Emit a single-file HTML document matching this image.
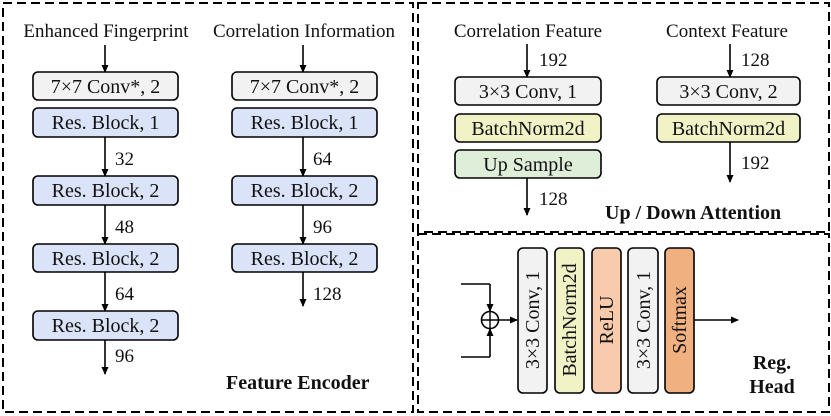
<!DOCTYPE html>
<html><head><meta charset="utf-8"><style>
html,body{margin:0;padding:0;background:#fff;}
svg{display:block;}
svg text{font-family:"Liberation Serif","Times New Roman","DejaVu Serif",serif;}
</style></head><body>
<svg width="831" height="416" viewBox="0 0 831 416" xmlns="http://www.w3.org/2000/svg">
<defs>
<marker id="a" markerWidth="8" markerHeight="8" refX="7" refY="4" orient="auto" markerUnits="userSpaceOnUse">
<path d="M0,0.5 L8,4 L0,7.5 Z" fill="#000"/></marker>
</defs>
<g fill="none" stroke="#000" stroke-width="2" stroke-dasharray="9,5">
<rect x="3" y="3" width="410" height="409"/>
<rect x="418" y="3" width="411" height="229"/>
<rect x="418" y="234" width="411" height="178"/>
</g>
<g font-size="19" text-anchor="middle" fill="#111">
<text x="106" y="37">Enhanced Fingerprint</text>
<text x="304" y="37">Correlation Information</text>
<text x="528" y="37">Correlation Feature</text>
<text x="727" y="37">Context Feature</text>
</g>
<g stroke="#000" stroke-width="1.6" marker-end="url(#a)">
<line x1="105" y1="45" x2="105" y2="72"/>
<line x1="303" y1="45" x2="303" y2="72"/>
<line x1="105" y1="137" x2="105" y2="176"/>
<line x1="105" y1="205" x2="105" y2="244"/>
<line x1="105" y1="272" x2="105" y2="311"/>
<line x1="105" y1="340" x2="105" y2="374"/>
<line x1="303" y1="137" x2="303" y2="176"/>
<line x1="303" y1="205" x2="303" y2="244"/>
<line x1="303" y1="272" x2="303" y2="306"/>
<line x1="527" y1="44" x2="527" y2="77"/>
<line x1="527" y1="178" x2="527" y2="215"/>
<line x1="730" y1="44" x2="730" y2="77"/>
<line x1="730" y1="142" x2="730" y2="182"/>
<line x1="499" y1="320" x2="517" y2="320"/>
<line x1="694" y1="320" x2="738" y2="320"/>
<line x1="490" y1="284" x2="490" y2="311"/>
<line x1="490" y1="357" x2="490" y2="329"/>
</g>
<polyline points="461,284 490,284" stroke="#000" stroke-width="1.6" fill="none"/>
<polyline points="461,357 490,357" stroke="#000" stroke-width="1.6" fill="none"/>
<circle cx="490" cy="320" r="8.5" fill="#fff" stroke="#000" stroke-width="1.6"/>
<line x1="481.5" y1="320" x2="498.5" y2="320" stroke="#000" stroke-width="1.4"/>
<line x1="490" y1="311.5" x2="490" y2="328.5" stroke="#000" stroke-width="1.4"/>
<g stroke="#000" stroke-width="1.6">
<rect x="33" y="72" width="145" height="28" rx="5" fill="#f2f2f2"/>
<rect x="33" y="108" width="145" height="29" rx="5" fill="#dae3f7"/>
<rect x="33" y="176" width="145" height="29" rx="5" fill="#dae3f7"/>
<rect x="33" y="244" width="145" height="28" rx="5" fill="#dae3f7"/>
<rect x="33" y="311" width="145" height="29" rx="5" fill="#dae3f7"/>
<rect x="232" y="72" width="145" height="28" rx="5" fill="#f2f2f2"/>
<rect x="232" y="108" width="145" height="29" rx="5" fill="#dae3f7"/>
<rect x="232" y="176" width="145" height="29" rx="5" fill="#dae3f7"/>
<rect x="232" y="244" width="145" height="28" rx="5" fill="#dae3f7"/>
<rect x="455" y="77" width="146" height="28" rx="5" fill="#f2f2f2"/>
<rect x="455" y="114" width="146" height="28" rx="5" fill="#f1f3c6"/>
<rect x="455" y="150" width="146" height="28" rx="5" fill="#dfeed9"/>
<rect x="657" y="77" width="143" height="28" rx="5" fill="#f2f2f2"/>
<rect x="657" y="114" width="143" height="28" rx="5" fill="#f1f3c6"/>
<rect x="518" y="248" width="29" height="145" rx="5" fill="#f2f2f2"/>
<rect x="555" y="248" width="29" height="145" rx="5" fill="#f1f3c6"/>
<rect x="592" y="248" width="29" height="145" rx="5" fill="#f8cbad"/>
<rect x="628" y="248" width="30" height="145" rx="5" fill="#f2f2f2"/>
<rect x="665" y="248" width="29" height="145" rx="5" fill="#f1b07f"/>
</g>
<g font-size="20" text-anchor="middle" fill="#111">
<text x="105.5" y="93">7×7 Conv*, 2</text>
<text x="105.5" y="129">Res. Block, 1</text>
<text x="105.5" y="197">Res. Block, 2</text>
<text x="105.5" y="265">Res. Block, 2</text>
<text x="105.5" y="332">Res. Block, 2</text>
<text x="304.5" y="93">7×7 Conv*, 2</text>
<text x="304.5" y="129">Res. Block, 1</text>
<text x="304.5" y="197">Res. Block, 2</text>
<text x="304.5" y="265">Res. Block, 2</text>
<text x="528" y="98">3×3 Conv, 1</text>
<text x="528" y="135">BatchNorm2d</text>
<text x="528" y="171">Up Sample</text>
<text x="728.5" y="98">3×3 Conv, 2</text>
<text x="728.5" y="135">BatchNorm2d</text>
<g transform="translate(539,320) rotate(-90)"><text x="0" y="0">3×3 Conv, 1</text></g>
<g transform="translate(576,320) rotate(-90)"><text x="0" y="0">BatchNorm2d</text></g>
<g transform="translate(613,320) rotate(-90)"><text x="0" y="0">ReLU</text></g>
<g transform="translate(650,320) rotate(-90)"><text x="0" y="0">3×3 Conv, 1</text></g>
<g transform="translate(686,320) rotate(-90)"><text x="0" y="0">Softmax</text></g>
</g>
<g font-size="19" fill="#111">
<text x="115" y="165">32</text>
<text x="115" y="233">48</text>
<text x="115" y="300">64</text>
<text x="115" y="362">96</text>
<text x="313" y="165">64</text>
<text x="313" y="233">96</text>
<text x="313" y="300">128</text>
<text x="539" y="66">192</text>
<text x="539" y="205">128</text>
<text x="741" y="66">128</text>
<text x="741" y="169">192</text>
</g>
<g font-size="20" font-weight="bold" fill="#111">
<text x="226" y="389">Feature Encoder</text>
<text x="605" y="219">Up / Down Attention</text>
<text x="772" y="369" text-anchor="middle">Reg.</text>
<text x="772" y="393" text-anchor="middle">Head</text>
</g>
</svg>
</body></html>
